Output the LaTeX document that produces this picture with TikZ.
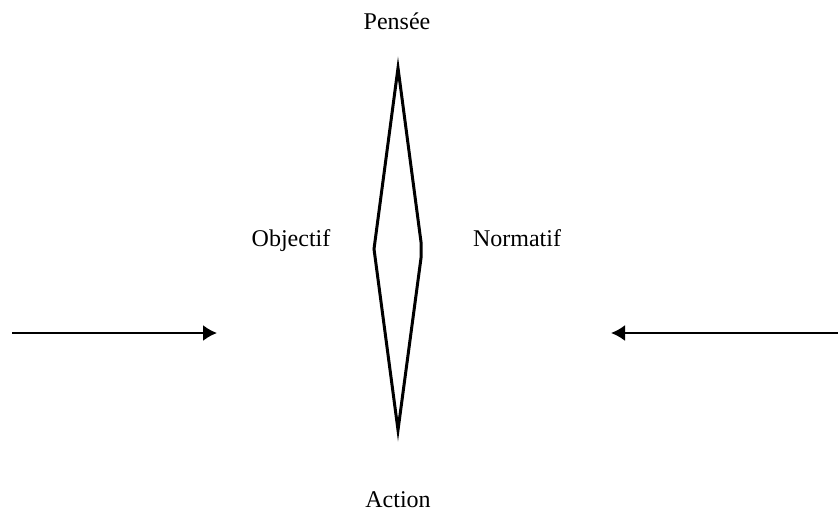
\documentclass[tikz,border=0pt]{standalone}
\usepackage{fontspec}
\setmainfont{Liberation Serif}
\usetikzlibrary{arrows.meta}

\begin{document}
\begin{tikzpicture}[x=0.5pt,y=-0.5pt,
    label/.style={font=\fontsize{12}{14}\selectfont, inner sep=0pt, anchor=base},
    flux/.style={line width=1pt, -{Latex[length=7pt,width=8pt]}}]
  \useasboundingbox (0,0) rectangle (838,514);
  % les quatre poles
  \node[label] (pensee) at (397,29) {Pensée};
  \node[label] (action) at (398,507) {Action};
  \node[label] (objectif) at (291,246) {Objectif};
  \node[label] (normatif) at (517,246) {Normatif};
  % le losange
  \coordinate (haut) at (398,68);
  \coordinate (bas) at (398,430);
  \coordinate (gauche) at (374,249);
  \coordinate (droite1) at (421,242);
  \coordinate (droite2) at (421,258);
  \draw[line width=1.5pt, miter limit=30] (haut) -- (droite1) -- (droite2)
    -- (bas) -- (gauche) -- cycle;
  % les deux fleches
  \coordinate (g1) at (12,333);
  \coordinate (g2) at (217,333);
  \coordinate (d1) at (838,333);
  \coordinate (d2) at (611,333);
  \draw[flux] (g1) -- (g2);
  \draw[flux] (d1) -- (d2);
\end{tikzpicture}
\end{document}
